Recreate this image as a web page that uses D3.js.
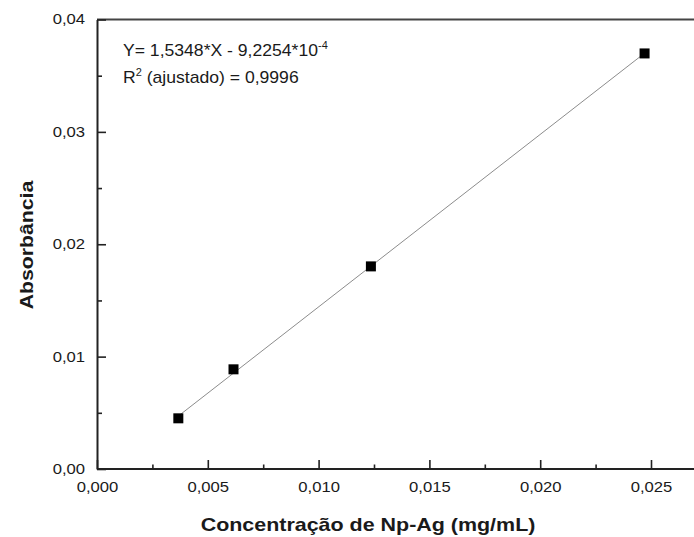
<!DOCTYPE html>
<html><head><meta charset="utf-8">
<script src="https://cdn.jsdelivr.net/npm/d3@7"></script>
<style>
html,body{margin:0;padding:0;background:#fff;overflow:hidden}
svg{display:block}
text{font-family:"Liberation Sans",Arial,sans-serif;fill:#1a1a1a}
</style></head>
<body>
<svg id="c" width="694" height="537"></svg>
<script>
// Data
const concentration = [0.00367, 0.00616, 0.01236, 0.02471];
const absorbance   = [0.00451, 0.00887, 0.01803, 0.03698];
const fitSlope = 1.5348;
const fitIntercept = -9.2254e-4;
const xTicks = [0, 0.005, 0.010, 0.015, 0.020, 0.025];
const xMinorTicks = [0.0025, 0.0075, 0.0125, 0.0175, 0.0225, 0.0275];
const yTicks = [0, 0.01, 0.02, 0.03, 0.04];
const yMinorTicks = [0.005, 0.015, 0.025, 0.035];
const xTitle = "Concentração de Np-Ag (mg/mL)";
const yTitle = "Absorbância";

const svg = d3.select("#c");
const x = d3.scaleLinear().domain([0, 0.025]).range([97, 651]);
const y = d3.scaleLinear().domain([0, 0.04]).range([469, 19.5]);
const xEnd = x(0.029);
const fmt = (d, n) => d3.format("." + n + "f")(d).replace(".", ",");

// frame: top line
svg.append("line").attr("x1", x(0)).attr("x2", xEnd).attr("y1", y(0.04)).attr("y2", y(0.04))
  .attr("stroke", "#444").attr("stroke-width", 2);

// x axis major
const gx = svg.append("g").attr("transform", `translate(0,${y(0)})`)
  .call(d3.axisBottom(x).tickValues(xTicks).tickFormat(d => fmt(d, 3))
    .tickSizeInner(-9).tickSizeOuter(0).tickPadding(13.5));
gx.select(".domain").attr("d", `M${x(0)},0H${xEnd}`).attr("stroke", "#222").attr("stroke-width", 2);
gx.selectAll(".tick line").attr("stroke", "#222").attr("stroke-width", 1.6);
gx.selectAll(".tick text").attr("font-size", 14).attr("font-family", null).attr("fill", "#1a1a1a")
  .attr("transform", "scale(1.19,1)");
// x axis minor
const gxm = svg.append("g").attr("transform", `translate(0,${y(0)})`)
  .call(d3.axisBottom(x).tickValues(xMinorTicks.filter(d => x(d) < 694)).tickFormat("")
    .tickSizeInner(-4.5).tickSizeOuter(0));
gxm.select(".domain").remove();
gxm.selectAll(".tick line").attr("stroke", "#222").attr("stroke-width", 1.6);

// y axis major
const gy = svg.append("g").attr("transform", `translate(${x(0)},0)`)
  .call(d3.axisLeft(y).tickValues(yTicks).tickFormat(d => fmt(d, 2))
    .tickSizeInner(-9).tickSizeOuter(0).tickPadding(10));
gy.select(".domain").attr("stroke", "#222").attr("stroke-width", 2);
gy.selectAll(".tick line").attr("stroke", "#222").attr("stroke-width", 1.6);
gy.selectAll(".tick text").attr("font-size", 14).attr("font-family", null).attr("fill", "#1a1a1a")
  .attr("transform", "scale(1.19,1)");
const gym = svg.append("g").attr("transform", `translate(${x(0)},0)`)
  .call(d3.axisLeft(y).tickValues(yMinorTicks).tickFormat("")
    .tickSizeInner(-5).tickSizeOuter(0));
gym.select(".domain").remove();
gym.selectAll(".tick line").attr("stroke", "#222").attr("stroke-width", 1.6);

// fit line
const x0 = d3.min(concentration), x1 = d3.max(concentration);
svg.append("line")
  .attr("x1", x(x0)).attr("y1", y(fitSlope * x0 + fitIntercept))
  .attr("x2", x(x1)).attr("y2", y(fitSlope * x1 + fitIntercept))
  .attr("stroke", "#8c8c8c").attr("stroke-width", 1);

// points
const s = 10;
svg.selectAll("rect.pt").data(concentration.map((c, i) => [c, absorbance[i]]))
  .enter().append("rect").attr("class", "pt")
  .attr("x", d => x(d[0]) - s / 2).attr("y", d => y(d[1]) - s / 2)
  .attr("width", s).attr("height", s).attr("fill", "#000");

// annotation
const a1 = svg.append("g").attr("transform", "translate(123,56) scale(1.1,1)")
  .append("text").attr("font-size", 16);
a1.append("tspan").text("Y= 1,5348*X - 9,2254*10");
a1.append("tspan").attr("font-size", 10).attr("dy", -7).text("-4");
const a2 = svg.append("g").attr("transform", "translate(123,82.7) scale(1.1,1)")
  .append("text").attr("font-size", 16);
a2.append("tspan").text("R");
a2.append("tspan").attr("font-size", 10).attr("dy", -7).text("2");
a2.append("tspan").attr("dy", 7).text(" (ajustado) = 0,9996");

// axis titles
svg.append("g").attr("transform", "translate(368,531) scale(1.16,1)")
  .append("text").attr("text-anchor", "middle").attr("font-size", 18.5).attr("font-weight", "bold")
  .text(xTitle);
svg.append("g").attr("transform", "translate(33,245) rotate(-90) scale(1.18,1)")
  .append("text").attr("text-anchor", "middle").attr("font-size", 18).attr("font-weight", "bold")
  .text(yTitle);
</script>
</body></html>
